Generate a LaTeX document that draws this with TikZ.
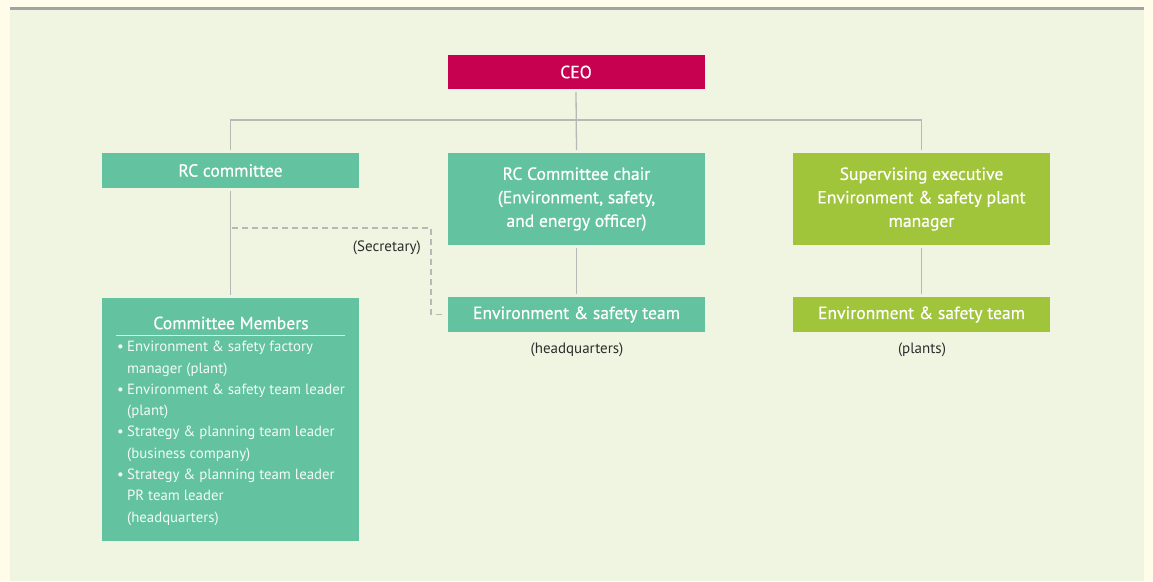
\documentclass[tikz,border=0pt]{standalone}
\usepackage{fontspec}
\setmainfont{PT Sans}
\newfontfamily\boxfont[FakeBold=0.5]{PT Sans}
\usepackage{tikz}
\usetikzlibrary{positioning}

\definecolor{pagecream}{RGB}{255,253,233}
\definecolor{panelgreen}{RGB}{239,245,224}
\definecolor{topgray}{RGB}{160,164,164}
\definecolor{linegray}{RGB}{182,186,182}
\definecolor{ceored}{RGB}{200,0,80}
\definecolor{mintbox}{RGB}{99,195,160}
\definecolor{limebox}{RGB}{160,196,58}
\definecolor{notegray}{RGB}{45,45,45}

\newcommand{\memitem}{\makebox[10pt][l]{\textbullet}}
\newcommand{\memcont}{\hspace*{10pt}}

\begin{document}
\begin{tikzpicture}[
    x=1pt, y=-1pt,
    box/.style={rectangle, minimum width=257pt, inner sep=0pt, outer sep=3pt, text=white, align=center, font=\boxfont\fontsize{17.6}{23.5}\selectfont},
    conn/.style={draw=linegray, line width=1.3pt},
    secline/.style={draw=linegray, line width=1.3pt, dash pattern=on 6pt off 4pt},
    note/.style={text=notegray, inner sep=0pt, font=\fontsize{15}{17}\selectfont}
]
    % background
    \fill[pagecream] (0,0) rectangle (1153,581);
    \fill[panelgreen] (10,8) rectangle (1144,581);
    \draw[topgray, line width=2.5pt] (10,8.7) -- (1144,8.7);

    \node[box, fill=ceored, minimum height=34pt] (ceo) at (576,72) {CEO};
    \node[box, fill=mintbox, minimum height=35pt] (rccom) at (230.5,170.5) {RC committee};
    \node[box, fill=mintbox, minimum height=92pt] (rcchair) at (576.5,199) {RC Committee chair\\(Environment, safety,\\and energy officer)};
    \node[box, fill=limebox, minimum height=92pt] (supexec) at (921.5,199) {Supervising executive\\Environment \& safety plant\\manager};
    \node[box, fill=mintbox, minimum height=35pt] (hqteam) at (576.5,314.5) {Environment \& safety team};
    \node[box, fill=limebox, minimum height=35pt] (plteam) at (921.5,314.5) {Environment \& safety team};
    \node[box, fill=mintbox, minimum height=243pt] (members) at (230.5,419.5) {};

    \node[note] (hqnote) at (577,350) {(headquarters)};
    \node[note] (plnote) at (922,350) {(plants)};
    \node[note, anchor=east] (secnote) at (421,248) {(Secretary)};

    % committee members list
    \node[text=white, inner sep=0pt, font=\boxfont\fontsize{17.6}{20}\selectfont] (memtitle) at (231,323) {Committee Members};
    \draw[white!75!mintbox, line width=0.9pt] (116,335) -- (345,335);
    \node[anchor=north west, inner sep=0pt, align=left, text=white!92!mintbox, font=\fontsize{14.8}{21.3}\selectfont] (memlist) at (117,341) {%
        \memitem Environment \& safety factory\\
        \memcont manager (plant)\\
        \memitem Environment \& safety team leader\\
        \memcont (plant)\\
        \memitem Strategy \& planning team leader\\
        \memcont (business company)\\
        \memitem Strategy \& planning team leader\\
        \memcont PR team leader\\
        \memcont (headquarters)};

    % connectors
    \coordinate (bus) at (0,120);
    \coordinate (secfork) at (232,228);
    \draw[conn] (ceo.south) -- (rcchair.north);
    \draw[conn] (rccom.north) |- (bus -| supexec.north) -- (supexec.north);
    \draw[conn] (rccom.south) -- (members.north);
    \draw[conn] (rcchair.south) -- (hqteam.north);
    \draw[conn] (supexec.south) -- (plteam.north);
    \draw[secline] (secfork) -- ++(199,0) |- (hqteam.west);
\end{tikzpicture}
\end{document}
